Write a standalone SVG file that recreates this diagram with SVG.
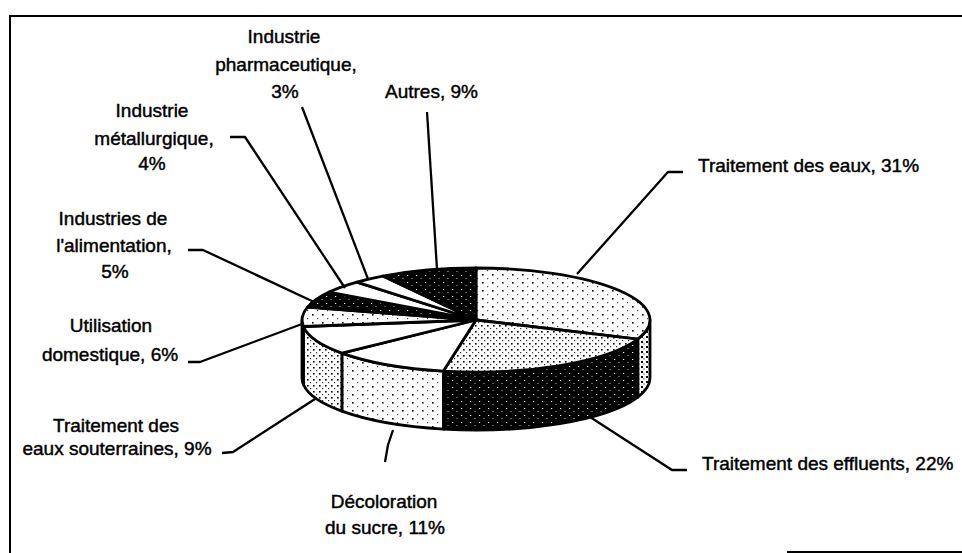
<svg xmlns="http://www.w3.org/2000/svg" width="962" height="553" viewBox="0 0 962 553">
<style>
.s{stroke:#000;stroke-width:2.8;stroke-linejoin:round}
.w{fill:#fff}
.lead{fill:none;stroke:#000;stroke-width:2.3;stroke-linejoin:round}
text{font-family:"Liberation Sans",Arial,sans-serif;font-size:19px;fill:#000;stroke:#000;stroke-width:0.45}
.m{text-anchor:middle}
.frame{stroke:#000;stroke-width:2;fill:none}
</style>
<defs>
<pattern id="pLight" width="10" height="8" patternUnits="userSpaceOnUse">
<rect width="10" height="8" fill="#fff"/>
<rect x="2" y="2" width="1.6" height="1.6" fill="#000"/>
<rect x="7" y="6" width="1.2" height="1.2" fill="#444"/>
</pattern>
<pattern id="pMed" width="6" height="6" patternUnits="userSpaceOnUse">
<rect width="6" height="6" fill="#fff"/>
<rect x="1" y="1" width="1.6" height="1.6" fill="#000"/>
<rect x="4" y="4" width="1.2" height="1.2" fill="#333"/>
</pattern>
<pattern id="pDense" width="5" height="5" patternUnits="userSpaceOnUse">
<rect width="5" height="5" fill="#fff"/>
<rect x="1" y="1" width="2" height="2" fill="#000"/>
<rect x="3.5" y="3.5" width="1" height="1" fill="#000"/>
</pattern>
<pattern id="pDark" width="9" height="7" patternUnits="userSpaceOnUse">
<rect width="9" height="7" fill="#000"/>
<rect x="2" y="2" width="1.2" height="1" fill="#fff"/>
<rect x="6.5" y="5" width="1" height="1" fill="#bbb"/>
</pattern>
</defs>
<rect width="962" height="553" fill="#fff"/>
<g id="frame">
<path class="frame" d="M10,553 L10,16 L962,16"/>
<line class="frame" x1="787" y1="552" x2="962" y2="552"/>
</g>
<g id="pie">
<g id="slice-eaux">
<path class="s" fill="url(#pDense)" d="M650,320 A174,52 0 0 1 637.8,339.1 L637.8,397.1 A174,52 0 0 0 650,378 Z"/>
<path class="s" fill="url(#pLight)" d="M476,320 L476,268 A174,52 0 0 1 637.8,339.1 Z"/>
<text x="698" y="172">Traitement des eaux, 31%</text>
</g>
<g id="slice-effluents">
<path class="s" fill="url(#pDark)" d="M637.8,339.1 A174,52 0 0 1 443.4,371.1 L443.4,429.1 A174,52 0 0 0 637.8,397.1 Z"/>
<path class="s" fill="url(#pMed)" d="M476,320 L637.8,339.1 A174,52 0 0 1 443.4,371.1 Z"/>
<text x="702" y="470">Traitement des effluents, 22%</text>
</g>
<g id="slice-decoloration">
<path class="s" fill="url(#pLight)" d="M443.4,371.1 A174,52 0 0 1 341.9,353.1 L341.9,411.1 A174,52 0 0 0 443.4,429.1 Z"/>
<path class="s w" d="M476,320 L443.4,371.1 A174,52 0 0 1 341.9,353.1 Z"/>
<text class="m" x="384" y="508">Décoloration</text>
<text class="m" x="385" y="534">du sucre, 11%</text>
</g>
<g id="slice-souterraines">
<path class="s" fill="url(#pMed)" d="M341.9,353.1 A174,52 0 0 1 303.4,326.5 L303.4,384.5 A174,52 0 0 0 341.9,411.1 Z"/>
<path class="s w" d="M476,320 L341.9,353.1 A174,52 0 0 1 303.4,326.5 Z"/>
<text class="m" x="116" y="432">Traitement des</text>
<text class="m" x="117" y="455">eaux souterraines, 9%</text>
</g>
<g id="slice-domestique">
<path class="s" fill="url(#pMed)" d="M303.4,326.5 A174,52 0 0 1 302,320 L302,378 A174,52 0 0 0 303.4,384.5 Z"/>
<path class="s" fill="url(#pLight)" d="M476,320 L303.4,326.5 A174,52 0 0 1 307.5,307.1 Z"/>
<text class="m" x="111" y="332">Utilisation</text>
<text class="m" x="110" y="361">domestique, 6%</text>
</g>
<g id="slice-alimentation">
<path class="s" fill="url(#pDark)" d="M476,320 L307.5,307.1 A174,52 0 0 1 329.1,292.1 Z"/>
<text class="m" x="113" y="225">Industries de</text>
<text class="m" x="114" y="252">l'alimentation,</text>
<text class="m" x="115" y="278">5%</text>
</g>
<g id="slice-metallurgique">
<path class="s w" d="M476,320 L329.1,292.1 A174,52 0 0 1 356.9,282.1 Z"/>
<text class="m" x="152" y="117">Industrie</text>
<text class="m" x="154" y="145">métallurgique,</text>
<text class="m" x="152" y="170">4%</text>
</g>
<g id="slice-pharmaceutique">
<path class="s w" d="M476,320 L356.9,282.1 A174,52 0 0 1 382.8,276.1 Z"/>
<text class="m" x="284" y="43">Industrie</text>
<text class="m" x="286" y="71">pharmaceutique,</text>
<text class="m" x="285" y="98">3%</text>
</g>
<g id="slice-autres">
<path class="s" fill="url(#pDark)" d="M476,320 L382.8,276.1 A174,52 0 0 1 476,268 Z"/>
<text x="385" y="98">Autres, 9%</text>
</g>
</g>
<g id="connectors">
<polyline class="lead" points="683,172 668,172 577,274"/>
<polyline class="lead" points="687,470 672,470 590,417"/>
<polyline class="lead" points="385,462 388,445 393,430"/>
<polyline class="lead" points="222,453 233,452 315,399"/>
<polyline class="lead" points="188,362 200,362 302,324"/>
<polyline class="lead" points="188,250 203,250 314,302"/>
<polyline class="lead" points="230,137 245,137 345,288"/>
<polyline class="lead" points="302,107 368,279"/>
<polyline class="lead" points="427,112 437,269"/>
</g>
</svg>
